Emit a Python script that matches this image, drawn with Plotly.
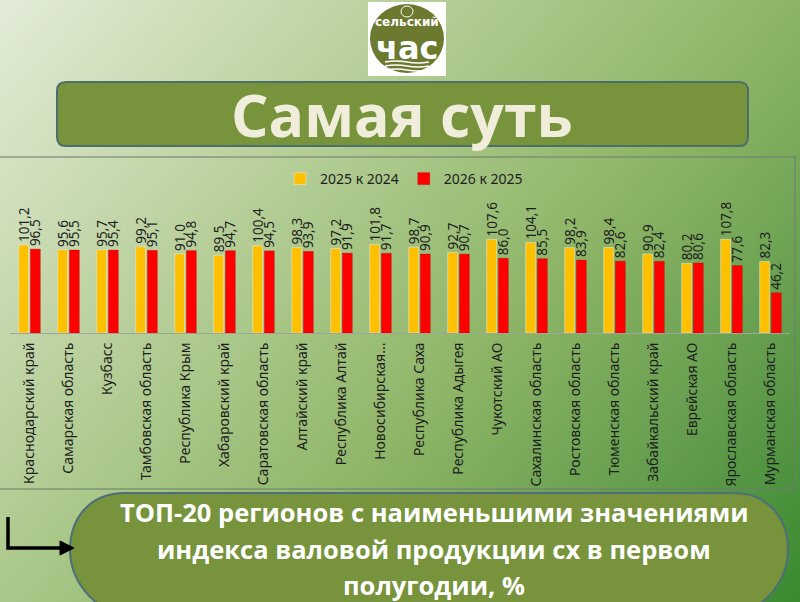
import plotly.graph_objects as go

regions = ["Краснодарский край", "Самарская область", "Кузбасс", "Тамбовская область",
           "Республика Крым", "Хабаровский край", "Саратовская область", "Алтайский край",
           "Республика Алтай", "Новосибирская...", "Республика Саха", "Республика Адыгея",
           "Чукотский АО", "Сахалинская область", "Ростовская область", "Тюменская область",
           "Забайкальский край", "Еврейская АО", "Ярославская область", "Мурманская область"]
v2025 = [101.2, 95.6, 95.7, 99.2, 91.0, 89.5, 100.4, 98.3, 97.2, 101.8,
         98.7, 92.7, 107.6, 104.1, 98.2, 98.4, 90.9, 80.2, 107.8, 82.3]
v2026 = [96.5, 95.5, 95.4, 95.1, 94.8, 94.7, 94.5, 93.9, 91.9, 91.7,
         90.9, 90.7, 86.0, 85.5, 83.9, 82.6, 82.4, 80.6, 77.6, 46.2]
series_names = ["2025 к 2024", "2026 к 2025"]
title_text = "Самая суть"
caption_lines = ["ТОП-20 регионов с наименьшими значениями",
                 "индекса валовой продукции сх в первом",
                 "полугодии, %"]

W, H = 800, 602
def X(px): return px / W
def Y(py): return 1 - py / H

def fmt(v): return f"{v:.1f}".replace(".", ",")

# background gradient (decoration)
nx, ny = 60, 46
gx = [i / (nx - 1) for i in range(nx)]
gy = [j / (ny - 1) for j in range(ny)]
gz = [[0.6 * x + 0.4 * (1 - y) for x in gx] for y in gy]

fig = go.Figure()
fig.add_trace(go.Heatmap(
    x=gx, y=gy, z=gz, zmin=0, zmax=1, zsmooth="best", showscale=False, hoverinfo="skip",
    colorscale=[[0, "#e3ecd8"], [0.3, "#b9d09c"], [0.4, "#aac88a"], [0.6, "#8db466"],
                [0.85, "#5a9848"], [1, "#3a8a30"]],
    xaxis="x", yaxis="y", showlegend=False))

fig.add_trace(go.Bar(
    x=regions, y=v2025, name=series_names[0], marker=dict(color="#ffc000"),
    text=[fmt(v) for v in v2025], textposition="outside", textangle=-90,
    constraintext="none", cliponaxis=False,
    textfont=dict(size=13.5, color="#1e1e1e", family="Noto Sans"),
    xaxis="x2", yaxis="y2"))
fig.add_trace(go.Bar(
    x=regions, y=v2026, name=series_names[1],
    marker=dict(color="#ff0000", line=dict(color="rgba(170,0,0,0.6)", width=0.5)),
    text=[fmt(v) for v in v2026], textposition="outside", textangle=-90,
    constraintext="none", cliponaxis=False,
    textfont=dict(size=13.5, color="#1e1e1e", family="Noto Sans"),
    xaxis="x2", yaxis="y2"))

shapes = []
# chart panel border
shapes.append(dict(type="rect", xref="paper", yref="paper", x0=X(-2), x1=X(795), y0=Y(489), y1=Y(157),
                   line=dict(color="rgba(110,125,110,0.7)", width=1.5), layer="above"))

# logo
shapes.append(dict(type="rect", xref="paper", yref="paper", x0=X(368), x1=X(446), y0=Y(76), y1=Y(2),
                   fillcolor="white", line=dict(width=0), layer="above"))
shapes.append(dict(type="circle", xref="paper", yref="paper", x0=X(370), x1=X(444), y0=Y(73), y1=Y(4),
                   fillcolor="#6b7a2f", line=dict(width=0), layer="above"))
for yy in [62, 66, 70]:
    shapes.append(dict(type="path", xref="paper", yref="paper",
                       path=f"M {X(385)} {Y(yy)} Q {X(396)} {Y(yy-2)} {X(407)} {Y(yy)} T {X(429)} {Y(yy)}",
                       line=dict(color="white", width=1.5), layer="above"))
shapes.append(dict(type="circle", xref="paper", yref="paper", x0=X(401), x1=X(413), y0=Y(17), y1=Y(6),
                   line=dict(color="white", width=1), layer="above"))

# title box
def rrect(x0, y0, x1, y1, r):
    return (f"M {X(x0+r)} {Y(y0)} L {X(x1-r)} {Y(y0)} Q {X(x1)} {Y(y0)} {X(x1)} {Y(y0+r)} "
            f"L {X(x1)} {Y(y1-r)} Q {X(x1)} {Y(y1)} {X(x1-r)} {Y(y1)} "
            f"L {X(x0+r)} {Y(y1)} Q {X(x0)} {Y(y1)} {X(x0)} {Y(y1-r)} "
            f"L {X(x0)} {Y(y0+r)} Q {X(x0)} {Y(y0)} {X(x0+r)} {Y(y0)} Z")
shapes.append(dict(type="path", xref="paper", yref="paper", path=rrect(57, 82, 748, 146, 9),
                   fillcolor="#77933c", line=dict(color="#4e6e6c", width=2), layer="above"))

# bottom pill
def pill(x0, y0, x1, y1, rx, ry):
    return (f"M {X(x0+rx)} {Y(y0)} L {X(x1-rx)} {Y(y0)} "
            f"C {X(x1-rx*0.35)} {Y(y0)} {X(x1)} {Y(y0+ry*0.45)} {X(x1)} {Y(y0+ry)} "
            f"C {X(x1)} {Y(y1-ry*0.6)} {X(x1-rx*0.4)} {Y(y1)} {X(x1-rx)} {Y(y1)} "
            f"L {X(x0+rx)} {Y(y1)} "
            f"C {X(x0+rx*0.4)} {Y(y1)} {X(x0)} {Y(y1-ry*0.6)} {X(x0)} {Y(y0+ry)} "
            f"C {X(x0)} {Y(y0+ry*0.45)} {X(x0+rx*0.35)} {Y(y0)} {X(x0+rx)} {Y(y0)} Z")
shapes.append(dict(type="path", xref="paper", yref="paper", path=pill(70, 493, 788, 612, 55, 57),
                   fillcolor="#77933c", line=dict(color="#4e6e7a", width=2), layer="above"))

# arrow
shapes.append(dict(type="path", xref="paper", yref="paper",
                   path=f"M {X(8)} {Y(517)} L {X(8)} {Y(548)} L {X(64)} {Y(548)}",
                   line=dict(color="black", width=3.5), layer="above"))
shapes.append(dict(type="path", xref="paper", yref="paper",
                   path=f"M {X(60)} {Y(541)} L {X(74)} {Y(548)} L {X(60)} {Y(555)} Z",
                   fillcolor="black", line=dict(color="black", width=1), layer="above"))

def ann(text, px, py, size, color, family, bold=True):
    return dict(text=text, x=X(px), y=Y(py), xref="paper", yref="paper", showarrow=False,
                xanchor="center", yanchor="middle",
                font=dict(size=size, color=color, family=family, weight="bold" if bold else "normal"))

annotations = [
    ann("сельский", 407, 22, 12, "white", "DejaVu Sans"),
    ann("час", 407, 48, 32, "white", "DejaVu Sans"),
    ann(title_text, 402, 114, 59, "#f1eddb", "Open Sans"),
]
for i, (line, yy) in enumerate(zip(caption_lines, [512, 548.5, 585])):
    annotations.append(ann(line, 434, yy, 25.5, "white", "Open Sans"))

fig.update_layout(
    width=W, height=H, margin=dict(l=0, r=0, t=0, b=0),
    paper_bgcolor="#8db466", plot_bgcolor="rgba(0,0,0,0)",
    barmode="group", bargap=0.4, bargroupgap=0.15,
    xaxis=dict(domain=[0, 1], range=[0, 1], visible=False, fixedrange=True),
    yaxis=dict(domain=[0, 1], range=[0, 1], visible=False, fixedrange=True),
    xaxis2=dict(domain=[X(10), X(790)], anchor="y2", showline=True, linecolor="#9aa89a",
                linewidth=1, ticks="", tickangle=-90, showgrid=False,
                tickfont=dict(size=14, color="#1e1e1e", family="Noto Sans"),
                ticklabelstandoff=3),
    yaxis2=dict(domain=[Y(333), Y(220)], anchor="x2", range=[0, 130], visible=False,
                showgrid=False),
    legend=dict(orientation="h", x=X(280), y=Y(163), xanchor="left", yanchor="top",
                font=dict(size=14, color="#1e1e1e", family="Noto Sans"),
                bgcolor="rgba(0,0,0,0)", itemwidth=30),
    shapes=shapes, annotations=annotations, showlegend=True,
)

fig.write_html("out.html", config={"displayModeBar": False},
               post_script="document.body.style.margin='0';document.body.style.overflow='hidden';")
